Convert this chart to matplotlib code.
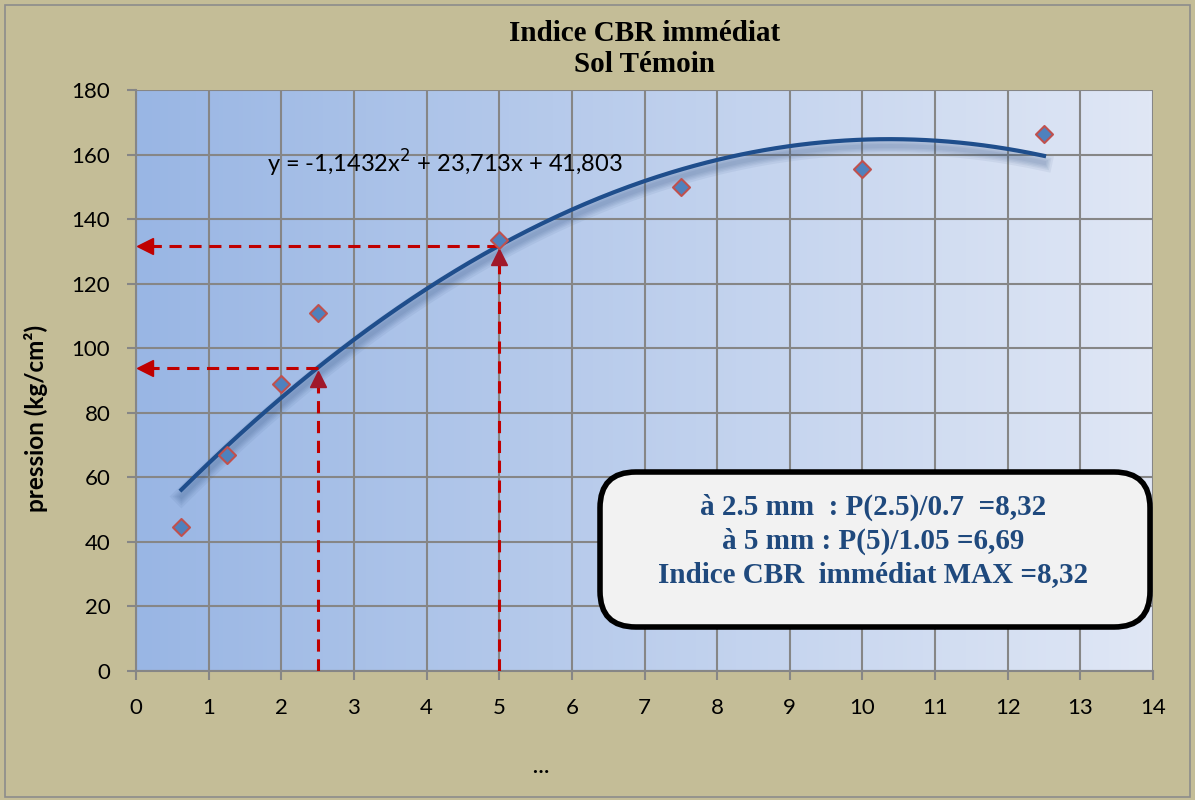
import numpy as np
import matplotlib
matplotlib.use("Agg")
import matplotlib.pyplot as plt
from matplotlib.patches import FancyBboxPatch, Rectangle
import matplotlib.patheffects as pe

# ---- data ----
x_vals = [0.625, 1.25, 2.0, 2.5, 5.0, 7.5, 10.0, 12.5]
y_vals = [44.5, 66.8, 89.0, 111.0, 133.5, 150.0, 155.5, 166.5]
coef = [-1.1432, 23.713, 41.803]
ref_x = [2.5, 5.0]
ref_y = [93.9, 131.8]
x_ticks = list(range(0, 15))
y_ticks = list(range(0, 181, 20))
title = "Indice CBR immédiat\nSol Témoin"
ylabel = "pression (kg/cm²)"
xlabel = "…"
eq_text = "y = -1,1432x$^2$ + 23,713x + 41,803"
box_lines = ["à 2.5 mm  : P(2.5)/0.7  =8,32",
             "à 5 mm : P(5)/1.05 =6,69",
             "Indice CBR  immédiat MAX =8,32"]

bg = "#C4BD97"
fig = plt.figure(figsize=(11.95, 8), dpi=100, facecolor=bg)
fig.patches.append(Rectangle((0.004, 0.004), 0.992, 0.99, transform=fig.transFigure,
                             fill=False, edgecolor="#8C8C8C", lw=1.2))
ax = fig.add_axes([136/1195, 1-671/800, (1153-136)/1195, (671-90)/800])

# gradient background
c1 = np.array([153, 182, 228]) / 255
c2 = np.array([224, 231, 245]) / 255
t = np.linspace(0, 1, 256)
grad = (c1[None, :] * (1 - t[:, None]) + c2[None, :] * t[:, None])[None, :, :]
ax.imshow(grad, extent=[0, 1, 0, 1], transform=ax.transAxes, aspect="auto", zorder=0)

ax.set_xlim(0, 14)
ax.set_ylim(0, 180)
ax.set_xticks(x_ticks)
ax.set_yticks(y_ticks)
ax.grid(True, color="#868686", lw=1.5, zorder=1)
ax.set_axisbelow(True)
for s in ["top", "right"]:
    ax.spines[s].set_visible(False)
for s in ["left", "bottom"]:
    ax.spines[s].set_color("#868686")
    ax.spines[s].set_linewidth(1.5)
ax.tick_params(axis="both", colors="#868686", width=1.5, length=6.5, labelcolor="black",
               labelsize=16)
ax.tick_params(axis="x", pad=13)
ax.tick_params(axis="y", pad=12)
for lab in ax.get_xticklabels() + ax.get_yticklabels():
    lab.set_fontfamily("Lato")

# trend curve with soft shadow
xs = np.linspace(min(x_vals), max(x_vals), 300)
ys = np.polyval(coef, xs)
shadow = [pe.SimpleLineShadow(offset=(0, -5), shadow_color="#2F4F80", alpha=0.07, linewidth=w)
          for w in (12, 9, 7, 5, 3)]
ax.plot(xs, ys, color="#1F4E8C", lw=3, zorder=4, path_effects=shadow + [pe.Normal()])

# reference arrows
red = "#C00000"
for rx, ry in zip(ref_x, ref_y):
    ax.plot([rx, 0.15], [ry, ry], color=red, lw=2.2, ls=(0, (4, 2.5)), zorder=5)
    ax.plot([0.12], [ry], marker="<", color=red, ms=11, clip_on=False, zorder=6)
    ax.plot([rx, rx], [0, ry - 5], color=red, lw=2.2, ls=(0, (4, 2.5)), zorder=5)
    ax.plot([rx], [ry - 3.5], marker="^", color="#A0182A", ms=11, zorder=6)

# data points
ax.scatter(x_vals, y_vals, marker="D", s=75, facecolor="#4F81BD", edgecolor="#C0504D",
           linewidth=1.5, zorder=7)

ax.text(1.8, 157.3, eq_text, fontsize=17, family="Lato", va="center", ha="left", zorder=8)

# title / labels
fig.text(645/1195, 1-49/800, title, ha="center", va="center", family="Liberation Serif",
         fontweight="bold", fontsize=21, linespacing=1.15)
fig.text(36/1195, 1-418/800, ylabel, rotation=90, ha="center", va="center",
         family="Lato", fontweight="bold", fontsize=17.5)
fig.text(540/1195, 1-767/800, xlabel, ha="center", va="center", family="Lato",
         fontweight="bold", fontsize=15)

# info box
bx0, by0, bx1, by1 = 600/1195, 1-627/800, 1150/1195, 1-472/800
box = FancyBboxPatch((bx0, by0), bx1 - bx0, by1 - by0, transform=fig.transFigure,
                     boxstyle="round,pad=0,rounding_size=0.03", facecolor="#F2F2F2",
                     edgecolor="black", lw=4, zorder=10, mutation_aspect=1195/800)
fig.patches.append(box)
for i, line in enumerate(box_lines):
    fig.text(873/1195, 1-(507 + i*34)/800, line, ha="center", va="center",
             family="Liberation Serif", fontweight="bold", fontsize=21, color="#1F497D",
             zorder=11)

fig.savefig("out.png", dpi=100, facecolor=bg)
